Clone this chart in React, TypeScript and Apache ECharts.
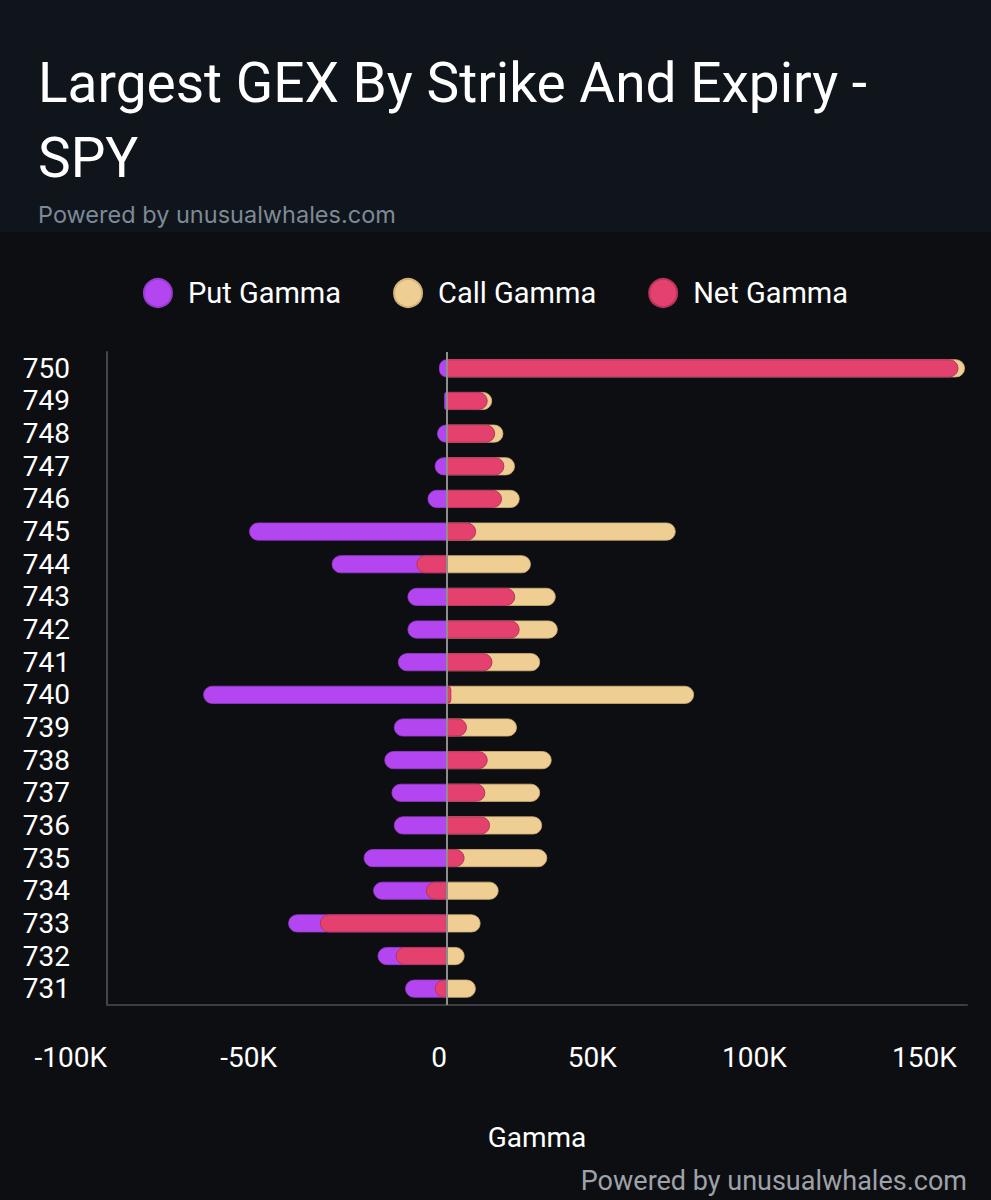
import { useEffect, useRef } from 'react';
import * as echarts from 'echarts';

// strikes from bottom (731) to top (750)
const strikes = ['731', '732', '733', '734', '735', '736', '737', '738', '739', '740', '741', '742', '743', '744', '745', '746', '747', '748', '749', '750'];
const putGamma = [-12300, -20400, -46700, -21700, -24500, -15600, -16300, -18400, -15600, -71700, -14400, -11600, -11600, -33900, -58200, -5700, -3600, -2900, -800, -2300];
const callGamma = [8500, 5200, 9900, 15200, 29500, 28000, 27400, 30800, 20600, 72700, 27400, 32600, 32000, 24700, 67300, 21400, 20000, 16600, 13300, 152400];
const netGamma = [-3600, -15100, -37400, -6200, 5200, 12700, 11300, 12000, 5900, 1300, 13400, 21400, 20100, -9000, 8600, 16200, 16900, 14200, 12000, 150500];

const xTicks = [-100000, -50000, 0, 50000, 100000, 150000];

const font = 'Roboto';
const roundRight = [0, 9, 9, 0];
const roundLeft = [9, 0, 0, 9];

const withCaps = (vals: number[]) =>
  vals.map((v) => ({ value: v, itemStyle: { borderRadius: v < 0 ? roundLeft : roundRight } }));

const fmtK = (v: number) => {
  if (!xTicks.includes(v)) return '';
  return v === 0 ? '0' : `${v / 1000}K`;
};

export default function App() {
  const chartRef = useRef<HTMLDivElement>(null);

  useEffect(() => {
    document.body.style.margin = '0';
    if (!chartRef.current) return;
    const chart = echarts.init(chartRef.current, undefined, { renderer: 'svg' });

    chart.setOption({
      animation: false,
      backgroundColor: '#0d0e12',
      graphic: [
        {
          type: 'rect',
          z: 0,
          shape: { x: 0, y: 0, width: 991, height: 232 },
          style: { fill: '#10141b' },
        },
      ],
      title: [
        {
          text: 'Largest GEX By Strike And Expiry -\nSPY',
          left: 33,
          top: 40,
          textStyle: { color: '#ffffff', fontSize: 55, fontWeight: 'normal', fontFamily: font, lineHeight: 75 },
        },
        {
          text: 'Powered by unusualwhales.com',
          left: 33,
          top: 197,
          textStyle: { color: '#7d8a98', fontSize: 23.5, fontWeight: 'normal', fontFamily: 'Inter' },
        },
        {
          text: 'Powered by unusualwhales.com',
          right: 19,
          top: 1162,
          textStyle: { color: '#9ea2a9', fontSize: 27, fontWeight: 'normal', fontFamily: font },
        },
      ],
      legend: {
        top: 273,
        left: 'center',
        icon: 'circle',
        itemWidth: 28,
        itemHeight: 28,
        itemGap: 52,
        textStyle: { color: '#ffffff', fontSize: 29, fontFamily: font, padding: [0, 0, 0, 11] },
        data: ['Put Gamma', 'Call Gamma', 'Net Gamma'],
      },
      grid: { left: 107, right: 24, top: 352, bottom: 195, outerBoundsMode: 'none' },
      xAxis: {
        type: 'value',
        min: -100000,
        max: 153000,
        interval: 50000,
        name: 'Gamma',
        nameLocation: 'middle',
        nameGap: 118,
        nameTextStyle: { color: '#ffffff', fontSize: 28, fontFamily: font },
        axisLine: { show: true, lineStyle: { color: '#3c3d42', width: 2 } },
        axisTick: { show: false },
        splitLine: { show: false },
        axisLabel: {
          color: '#ffffff',
          fontSize: 28,
          fontFamily: font,
          align: 'right',
          margin: 38,
          showMaxLabel: false,
          formatter: fmtK,
        },
      },
      yAxis: {
        type: 'category',
        data: strikes,
        axisLine: { show: true, onZero: false, lineStyle: { color: '#45464b', width: 2 } },
        axisTick: { show: false },
        splitLine: { show: false },
        axisLabel: { color: '#ffffff', fontSize: 28, fontFamily: font, margin: 37, interval: 0 },
      },
      series: [
        {
          name: 'Put Gamma',
          type: 'bar',
          barWidth: 18,
          barGap: '-100%',
          itemStyle: { color: '#b346f0', borderColor: '#9a3bd0', borderWidth: 0.8 },
          data: withCaps(putGamma),
        },
        {
          name: 'Call Gamma',
          type: 'bar',
          barWidth: 18,
          barGap: '-100%',
          itemStyle: { color: '#efce93', borderColor: '#d4b37a', borderWidth: 0.8 },
          data: withCaps(callGamma),
        },
        {
          name: 'Net Gamma',
          type: 'bar',
          barWidth: 18,
          barGap: '-100%',
          itemStyle: { color: '#e4416f', borderColor: '#b9345b', borderWidth: 1 },
          data: withCaps(netGamma),
          markLine: {
            silent: true,
            symbol: ['none', 'none'],
            label: { show: false },
            lineStyle: { color: '#8e8e8e', width: 2, type: 'solid' },
            data: [{ xAxis: 0 }],
          },
        },
      ],
    });

    return () => {
      chart.dispose();
    };
  }, []);

  return <div ref={chartRef} style={{ width: 991, height: 1200 }} />;
}
